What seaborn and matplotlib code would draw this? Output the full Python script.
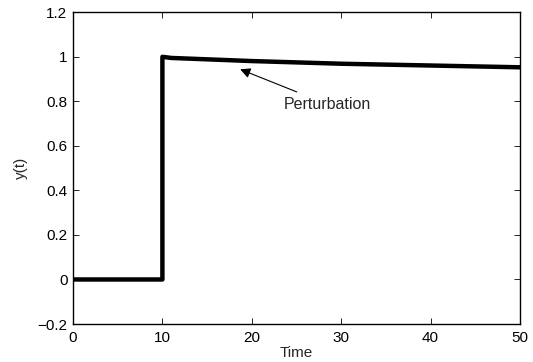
import matplotlib
matplotlib.use("Agg")
import matplotlib.pyplot as plt
import seaborn as sns
import pandas as pd

# Step response with a slow perturbation after the step at t = 10
t = [0, 10, 10, 11, 20, 30, 40, 50]
y = [0.0, 0.0, 1.0, 0.995, 0.981, 0.969, 0.961, 0.953]

x_ticks = [0, 10, 20, 30, 40, 50]
y_ticks = [-0.2, 0.0, 0.2, 0.4, 0.6, 0.8, 1.0, 1.2]
y_tick_labels = ["\u22120.2", "0", "0.2", "0.4", "0.6", "0.8", "1", "1.2"]

sns.set_theme(style="ticks")
plt.rcParams["font.family"] = ["Liberation Sans", "DejaVu Sans"]

fig = plt.figure(figsize=(5.33, 3.62), dpi=100)
ax = fig.add_axes([73 / 533, 1 - 324 / 362, 447 / 533, 311.7 / 362])

df = pd.DataFrame({"Time": t, "y(t)": y})
sns.lineplot(data=df, x="Time", y="y(t)", ax=ax, color="black",
             linewidth=3.2, estimator=None, sort=False)

ax.set_xlim(0, 50)
ax.set_ylim(-0.2, 1.2)
ax.set_xticks(x_ticks)
ax.set_xticklabels([str(v) for v in x_ticks])
ax.set_yticks(y_ticks)
ax.set_yticklabels(y_tick_labels)

for side in ["top", "right", "left", "bottom"]:
    ax.spines[side].set_visible(True)
    ax.spines[side].set_linewidth(1.0)
    ax.spines[side].set_color("black")

ax.tick_params(direction="in", length=4, width=0.6, top=True, right=True,
               labelsize=11, colors="black")
ax.tick_params(axis="x", pad=5)
ax.tick_params(axis="y", pad=4)
ax.set_xlabel("Time", fontsize=11, labelpad=1)
ax.set_ylabel("y(t)", fontsize=11)
ax.yaxis.set_label_coords(-0.1, 0.5)

ax.annotate("Perturbation", xy=(18.7, 0.944), xytext=(23.6, 0.787),
            fontsize=11.5, va="center", ha="left",
            arrowprops=dict(arrowstyle="-|>", color="black", lw=0.8,
                            mutation_scale=15, shrinkA=3, shrinkB=0))

fig.savefig("out.png", dpi=100)
